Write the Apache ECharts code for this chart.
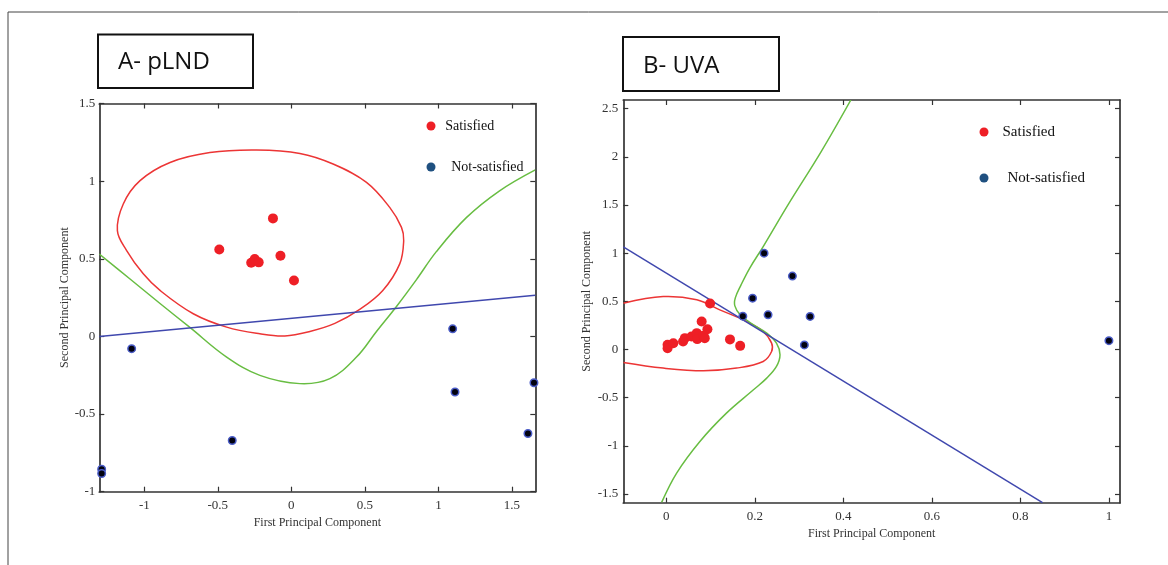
<!DOCTYPE html>
<html>
<head>
<meta charset="utf-8">
<script src="https://cdn.jsdelivr.net/npm/echarts@6/dist/echarts.min.js"></script>
<style>
html,body{margin:0;padding:0;background:#fff;}
#chart{width:1168px;height:565px;}
</style>
</head>
<body>
<div id="chart"></div>
<script>
// ---------- Panel A: pLND ----------
const pLndSatX = [-0.49, -0.125, -0.273, -0.249, -0.222, -0.074, 0.018];
const pLndSatY = [0.56, 0.76, 0.475, 0.498, 0.477, 0.52, 0.36];
const pLndNotX = [-1.086, -0.402, -1.29, -1.29, 1.097, 1.113, 1.65, 1.609];
const pLndNotY = [-0.079, -0.67, -0.855, -0.883, 0.049, -0.358, -0.298, -0.625];
// red class boundary (closed loop)
const pLndRedX = [-0.554,-0.236,0.058,0.284,0.511,0.669,0.749,0.764,0.737,0.622,0.465,0.296,0.126,-0.044,-0.214,-0.44,-0.667,-0.893,-1.007,-1.12,-1.183,-1.143,-1.029,-0.825];
const pLndRedY = [1.184,1.2,1.178,1.11,0.992,0.831,0.702,0.617,0.467,0.296,0.174,0.084,0.032,0.003,0.017,0.06,0.146,0.296,0.403,0.553,0.681,0.853,1.003,1.12];
const pLndGreenX = [-1.306,-1.097,-0.893,-0.69,-0.44,-0.214,0.058,0.262,0.443,0.579,0.715,0.851,0.986,1.19,1.416,1.659];
const pLndGreenY = [0.531,0.37,0.212,0.058,-0.133,-0.251,-0.304,-0.272,-0.133,0.032,0.193,0.366,0.546,0.765,0.938,1.073];
const pLndBlueX = [-1.306, 1.659];
const pLndBlueY = [0.0, 0.265];
const pLndXTicks = [-1, -0.5, 0, 0.5, 1, 1.5];
const pLndYTicks = [-1, -0.5, 0, 0.5, 1, 1.5];

// ---------- Panel B: UVA ----------
const uvaSatX = [0.099,0.080,0.093,0.003,0.003,0.016,0.038,0.042,0.057,0.069,0.070,0.084,0.087,0.144,0.167];
const uvaSatY = [0.478,0.29,0.21,0.049,0.014,0.066,0.083,0.118,0.135,0.17,0.108,0.142,0.118,0.105,0.038];
const uvaNotX = [0.221,0.285,0.195,0.173,0.230,0.325,0.312,1.0];
const uvaNotY = [1.0,0.762,0.533,0.346,0.36,0.344,0.048,0.092];
const uvaRedX = [-0.097,-0.007,0.069,0.121,0.182,0.219,0.238,0.238,0.219,0.159,0.084,-0.007,-0.097];
const uvaRedY = [0.481,0.55,0.516,0.412,0.29,0.187,0.066,-0.021,-0.124,-0.193,-0.221,-0.193,-0.135];
const uvaGreenX = [0.417,0.35,0.275,0.219,0.189,0.169,0.156,0.155,0.167,0.197,0.227,0.249,0.257,0.249,0.227,0.197,0.136,0.076,0.0235,-0.0104];
const uvaGreenY = [2.59,2.054,1.501,1.068,0.848,0.671,0.536,0.453,0.36,0.256,0.17,0.066,-0.055,-0.176,-0.297,-0.418,-0.66,-0.954,-1.282,-1.587];
const uvaBlueX = [-0.097, 0.85];
const uvaBlueY = [1.066, -1.59];
const uvaXTicks = [0, 0.2, 0.4, 0.6, 0.8, 1];
const uvaYTicks = [-1.5, -1, -0.5, 0, 0.5, 1, 1.5, 2, 2.5];

const legendNames = ['Satisfied', 'Not-satisfied'];

function zip(xs, ys){ return xs.map((x,i)=>[x, ys[i]]); }

const RED = '#ee1f26', REDLINE = '#ec3535', GREEN = '#68bd42', BLUE = '#4048ae', LEGBLUE = '#1f5080';
const AXC = '#333333';
const SERIF = "'Liberation Serif', 'Times New Roman', serif";

function xAxisDef(gi, min, max, ticks, pos, showLabel, nameGap){
  return {
    type:'value', gridIndex:gi, min:min, max:max, position:pos,
    name: showLabel ? 'First Principal Component' : '',
    nameLocation:'middle', nameGap:nameGap,
    nameTextStyle:{fontFamily:SERIF, fontSize:12, color:'#333'},
    axisLine:{show:true, onZero:false, lineStyle:{color:AXC, width:1.7}},
    axisTick:{show:true, inside:true, length:5, customValues:ticks, lineStyle:{color:AXC, width:1.2}},
    axisLabel:{show:showLabel, customValues:ticks, margin:7, fontFamily:SERIF, fontSize:13, color:'#333'},
    splitLine:{show:false}
  };
}
function yAxisDef(gi, min, max, ticks, pos, showLabel, nameGap, margin){
  return {
    type:'value', gridIndex:gi, min:min, max:max, position:pos,
    name: showLabel ? 'Second Principal Component' : '',
    nameLocation:'middle', nameGap:nameGap,
    nameTextStyle:{fontFamily:SERIF, fontSize:12, color:'#333'},
    axisLine:{show:true, onZero:false, lineStyle:{color:AXC, width:1.7}},
    axisTick:{show:true, inside:true, length:5, customValues:ticks, lineStyle:{color:AXC, width:1.2}},
    axisLabel:{show:showLabel, customValues:ticks, margin:margin, fontFamily:SERIF, fontSize:13, color:'#333'},
    splitLine:{show:false}
  };
}

// smooth boundary curve drawn through the read points (positions come from the axes via api.coord)
function curveSeries(name, xi, yi, xs, ys, color, closed){
  const data = zip(xs, ys);
  return {
    type:'custom', name:name, xAxisIndex:xi, yAxisIndex:yi, data:data, silent:true, clip:true, z:3,
    encode:{x:0, y:1},
    renderItem: function(params, api){
      if (params.dataIndex !== 0) return null;
      const pts = data.map(function(p){ return api.coord(p); });
      const cs = params.coordSys;
      return {
        type: closed ? 'polygon' : 'polyline',
        shape:{points:pts, smooth:0.38},
        style:{stroke:color, fill:'none', lineWidth:1.5},
        clipPath:{type:'rect', shape:{x:cs.x, y:cs.y, width:cs.width, height:cs.height}}
      };
    }
  };
}
function lineSeries(name, xi, yi, data, color){
  return {type:'line', name:name, xAxisIndex:xi, yAxisIndex:yi, data:data, symbol:'none',
    silent:true, clip:true, lineStyle:{color:color, width:1.5}, z:3};
}
function satSeries(xi, yi, data){
  return {type:'scatter', name:'Satisfied', xAxisIndex:xi, yAxisIndex:yi, data:data, symbol:'circle',
    symbolSize:10, itemStyle:{color:RED, opacity:1}, z:5};
}
function notSeries(xi, yi, data){
  return {type:'scatter', name:'Not-satisfied', xAxisIndex:xi, yAxisIndex:yi, data:data, symbol:'circle',
    symbolSize:7.5, itemStyle:{color:'#020210', borderColor:'#4a5cc8', borderWidth:1.5, opacity:1}, z:5};
}

function legendDef(left, top, w, gap, fs, extra){
  return {
    orient:'vertical', left:left, top:top, itemWidth:w, itemHeight:9, itemGap:gap,
    icon:'circle', selectedMode:false,
    data:[{name:'Satisfied', itemStyle:{color:RED, borderWidth:0, opacity:1}},
          {name:'Not-satisfied', itemStyle:{color:LEGBLUE, borderWidth:0, opacity:1}}],
    formatter: function(n){ return n === 'Not-satisfied' ? '{b|' + n + '}' : n; },
    textStyle:{fontFamily:SERIF, fontSize:fs, color:'#111', lineHeight:fs,
      rich:{b:{fontFamily:SERIF, fontSize:fs, color:'#111', padding:[0,0,0,extra]}}}
  };
}

const option = {
  animation:false,
  backgroundColor:'#ffffff',
  grid:[
    {left:99.3, top:103.5, width:436, height:388.2},
    {left:623.3, top:100, width:496.7, height:402.7}
  ],
  xAxis:[
    xAxisDef(0, -1.306, 1.659, pLndXTicks, 'bottom', true, 22),
    xAxisDef(0, -1.306, 1.659, pLndXTicks, 'top', false, 0),
    xAxisDef(1, -0.097, 1.025, uvaXTicks, 'bottom', true, 25),
    xAxisDef(1, -0.097, 1.025, uvaXTicks, 'top', false, 0)
  ],
  yAxis:[
    yAxisDef(0, -1, 1.5, pLndYTicks, 'left', true, 20, 4),
    yAxisDef(0, -1, 1.5, pLndYTicks, 'right', false, 0, 4),
    yAxisDef(1, -1.59, 2.59, uvaYTicks, 'left', true, 30, 5),
    yAxisDef(1, -1.59, 2.59, uvaYTicks, 'right', false, 0, 5)
  ],
  legend:[
    legendDef(421.5, 114, 18.4, 27, 14, 6),
    legendDef(974.5, 119.5, 27, 31, 15, 5)
  ],
  series:[
    curveSeries('pLND boundary red', 0, 0, pLndRedX, pLndRedY, REDLINE, true),
    curveSeries('pLND boundary green', 0, 0, pLndGreenX, pLndGreenY, GREEN, false),
    lineSeries('pLND boundary blue', 0, 0, zip(pLndBlueX, pLndBlueY), BLUE),
    satSeries(0, 0, zip(pLndSatX, pLndSatY)),
    notSeries(0, 0, zip(pLndNotX, pLndNotY)),
    curveSeries('UVA boundary red', 2, 2, uvaRedX, uvaRedY, REDLINE, false),
    curveSeries('UVA boundary green', 2, 2, uvaGreenX, uvaGreenY, GREEN, false),
    lineSeries('UVA boundary blue', 2, 2, zip(uvaBlueX, uvaBlueY), BLUE),
    satSeries(2, 2, zip(uvaSatX, uvaSatY)),
    notSeries(2, 2, zip(uvaNotX, uvaNotY))
  ],
  graphic:[
    {type:'rect', silent:true, z:-1, shape:{x:8, y:12, width:1200, height:600},
      style:{fill:null, stroke:'#444', lineWidth:1}},
    {type:'rect', silent:true, shape:{x:98, y:34.5, width:155, height:53.5},
      style:{fill:'#fff', stroke:'#111', lineWidth:2}},
    {type:'text', silent:true, x:118, y:62,
      style:{text:'A- pLND', fill:'#111', font:"24px 'Open Sans', sans-serif", verticalAlign:'middle'}},
    {type:'rect', silent:true, shape:{x:623, y:37, width:156, height:54},
      style:{fill:'#fff', stroke:'#111', lineWidth:2}},
    {type:'text', silent:true, x:643, y:66,
      style:{text:'B- UVA', fill:'#111', font:"24px 'Open Sans', sans-serif", verticalAlign:'middle'}}
  ]
};

const chart = echarts.init(document.getElementById('chart'), null, {renderer:'canvas'});
chart.setOption(option);
</script>
</body>
</html>
